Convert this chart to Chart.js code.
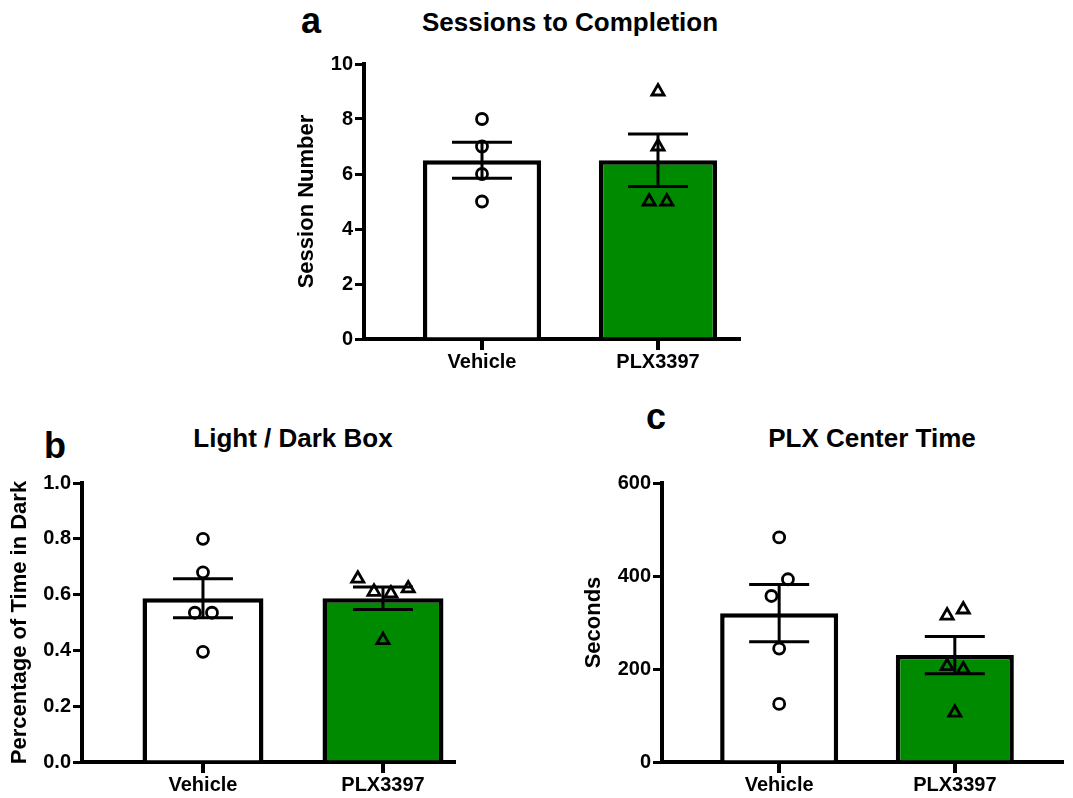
<!DOCTYPE html>
<html>
<head>
<meta charset="utf-8">
<script src="https://cdn.jsdelivr.net/npm/chart.js@4.4.1/dist/chart.umd.min.js"></script>
<style>
  html, body { margin: 0; padding: 0; background: #fff; }
  body { width: 1073px; height: 798px; position: relative; overflow: hidden;
         font-family: "Liberation Sans", Arial, Helvetica, sans-serif; }
  .lbl { position: absolute; font-weight: bold; line-height: 1; white-space: nowrap;
         color: #000; transform: translateX(-50%); }
  canvas { position: absolute; }
</style>
</head>
<body>
<div class="lbl" style="left:311px; top:3px; font-size:36px;">a</div>
<div class="lbl" style="left:570px; top:9px; font-size:26px;">Sessions to Completion</div>
<div class="lbl" style="left:55px; top:428px; font-size:36px;">b</div>
<div class="lbl" style="left:293px; top:425px; font-size:26px;">Light / Dark Box</div>
<div class="lbl" style="left:656px; top:399px; font-size:36px;">c</div>
<div class="lbl" style="left:872px; top:425px; font-size:26px;">PLX Center Time</div>

<canvas id="chartA" width="463" height="390" style="left:287px; top:0px; width:463px; height:390px;"></canvas>
<canvas id="chartB" width="465" height="398" style="left:0px; top:400px; width:465px; height:398px;"></canvas>
<canvas id="chartC" width="499" height="398" style="left:574px; top:400px; width:499px; height:398px;"></canvas>

<script>
// ---------------- data ----------------
const groups = ['Vehicle', 'PLX3397'];

// Panel a: Sessions to Completion
const sessionsMean = [6.5, 6.5];
const sessionsSem = [0.655, 0.955];
const sessionsVehicle = [8, 7, 6, 5];
const sessionsPlx = [9, 7, 5, 5];
const sessionsVehicleJitter = [0, 0, 0, 0];
const sessionsPlxJitter = [0, 0, -0.05, 0.05];
const sessionsTicks = [0, 2, 4, 6, 8, 10];

// Panel b: Light / Dark Box
const darkMean = [0.587, 0.587];
const darkSem = [0.07, 0.04];
const darkVehicle = [0.80, 0.68, 0.535, 0.535, 0.395];
const darkPlx = [0.657, 0.61, 0.604, 0.622, 0.437];
const darkVehicleJitter = [0, 0, -0.045, 0.05, 0];
const darkPlxJitter = [-0.14, -0.05, 0.044, 0.14, 0];
const darkTicks = [0, 0.2, 0.4, 0.6, 0.8, 1.0];

// Panel c: PLX Center Time
const centerMean = [320, 230];
const centerSem = [61.6, 40];
const centerVehicle = [483, 393, 357, 244, 125];
const centerPlx = [315, 328, 206, 199, 106];
const centerVehicleJitter = [0, 0.05, -0.044, 0, 0];
const centerPlxJitter = [-0.044, 0.048, -0.044, 0.048, 0];
const centerTicks = [0, 200, 400, 600];

// ---------------- styling ----------------
Chart.defaults.font.family = '"Liberation Sans", Arial, Helvetica, sans-serif';
Chart.defaults.color = '#000';
const GREEN = 'rgb(0,138,0)';
const X_TICK_LEN = 11;
const CAP_HALF = 30;

// error bars (mean ± SEM)
const errorBarPlugin = {
  id: 'errorBars',
  afterDatasetsDraw(chart) {
    const ctx = chart.ctx, xs = chart.scales.x, ys = chart.scales.y;
    const means = chart.$means, sems = chart.$sems;
    ctx.save();
    ctx.strokeStyle = '#000';
    ctx.lineWidth = 3;
    for (let i = 0; i < means.length; i++) {
      const x = xs.getPixelForValue(i);
      const yt = ys.getPixelForValue(means[i] + sems[i]);
      const yb = ys.getPixelForValue(means[i] - sems[i]);
      ctx.beginPath();
      ctx.moveTo(x, yt); ctx.lineTo(x, yb);
      ctx.moveTo(x - CAP_HALF, yt); ctx.lineTo(x + CAP_HALF, yt);
      ctx.moveTo(x - CAP_HALF, yb); ctx.lineTo(x + CAP_HALF, yb);
      ctx.stroke();
    }
    ctx.restore();
  }
};

// category tick marks under the x axis and the axis corner
const xTickPlugin = {
  id: 'xTickMarks',
  afterDraw(chart) {
    const ctx = chart.ctx, xs = chart.scales.x;
    const yAxis = chart.scales.y;
    const base = yAxis.getPixelForValue(yAxis.min);
    ctx.save();
    ctx.fillStyle = '#000';
    for (let i = 0; i < groups.length; i++) {
      const x = Math.round(xs.getPixelForValue(i));
      ctx.fillRect(x - 2, base, 4, X_TICK_LEN);
    }
    ctx.fillRect(yAxis.right - 2, base - 2, 4, 4);
    ctx.restore();
  }
};

function makePanel(id, p) {
  const pts = (vals, jit, base) => vals.map((v, k) => ({ x: base + jit[k], y: v }));
  const chart = new Chart(document.getElementById(id), {
    type: 'bar',
    data: {
      datasets: [
        {
          type: 'bar',
          data: p.means.map((m, i) => ({ x: i, y: m })),
          backgroundColor: ['#ffffff', GREEN],
          borderColor: '#000',
          borderWidth: 4.5,
          barPercentage: 0.672,
          categoryPercentage: 1,
          order: 3
        },
        {
          type: 'scatter',
          data: pts(p.vehicle, p.vehicleJitter, 0),
          pointStyle: 'circle',
          pointRadius: 5.5,
          pointBorderWidth: 2.8,
          pointBorderColor: '#000',
          pointBackgroundColor: 'rgba(0,0,0,0)',
          order: 1
        },
        {
          type: 'scatter',
          data: pts(p.plx, p.plxJitter, 1),
          pointStyle: 'triangle',
          pointRadius: 7,
          pointBorderWidth: 2.8,
          pointBorderColor: '#000',
          pointBackgroundColor: 'rgba(0,0,0,0)',
          order: 1
        }
      ]
    },
    options: {
      responsive: false,
      animation: false,
      devicePixelRatio: 1,
      events: [],
      layout: { padding: { top: p.padTop, right: p.padRight, left: 0, bottom: 0 } },
      plugins: {
        legend: { display: false },
        tooltip: { enabled: false }
      },
      scales: {
        x: {
          type: 'linear',
          min: p.xMin, max: p.xMax,
          offset: false,
          afterBuildTicks: s => { s.ticks = groups.map((g, i) => ({ value: i })); },
          ticks: {
            callback: v => groups[v],
            font: { size: 20, weight: 'bold' },
            color: '#000',
            padding: 11,
            maxRotation: 0,
            autoSkip: false
          },
          grid: { display: false, drawTicks: false },
          border: { display: true, color: '#000', width: 4 },
          afterFit: s => { s.height = p.xHeight; }
        },
        y: {
          type: 'linear',
          min: p.ticks[0], max: p.ticks[p.ticks.length - 1],
          afterBuildTicks: s => { s.ticks = p.ticks.map(v => ({ value: v })); },
          ticks: {
            callback: v => p.fmt(v),
            font: { size: 20, weight: 'bold' },
            color: '#000',
            padding: 2
          },
          grid: { offset: false, drawOnChartArea: false, drawTicks: true, tickLength: 9, lineWidth: 3, color: '#000' },
          border: { display: true, color: '#000', width: 4 },
          title: {
            display: true,
            text: p.yTitle,
            font: { size: 22, weight: 'bold' },
            color: '#000',
            padding: { top: 7, bottom: 0 }
          },
          afterFit: s => { s.width = p.yWidth; }
        }
      }
    },
    plugins: [{
      id: 'stats',
      beforeInit(c) { c.$means = p.means; c.$sems = p.sems; }
    }, errorBarPlugin, xTickPlugin]
  });
  return chart;
}

makePanel('chartA', {
  means: sessionsMean, sems: sessionsSem,
  vehicle: sessionsVehicle, plx: sessionsPlx,
  vehicleJitter: sessionsVehicleJitter, plxJitter: sessionsPlxJitter,
  ticks: sessionsTicks, fmt: v => String(v),
  yTitle: 'Session Number',
  xMin: -0.6705, xMax: 1.466,
  padTop: 64, padRight: 10, yWidth: 77, xHeight: 51
});

makePanel('chartB', {
  means: darkMean, sems: darkSem,
  vehicle: darkVehicle, plx: darkPlx,
  vehicleJitter: darkVehicleJitter, plxJitter: darkPlxJitter,
  ticks: darkTicks, fmt: v => v.toFixed(1),
  yTitle: 'Percentage of Time in Dark',
  xMin: -0.672, xMax: 1.4,
  padTop: 83, padRight: 10, yWidth: 82, xHeight: 36
});

makePanel('chartC', {
  means: centerMean, sems: centerSem,
  vehicle: centerVehicle, plx: centerPlx,
  vehicleJitter: centerVehicleJitter, plxJitter: centerPlxJitter,
  ticks: centerTicks, fmt: v => String(v),
  yTitle: 'Seconds',
  xMin: -0.667, xMax: 1.617,
  padTop: 83, padRight: 0, yWidth: 88, xHeight: 36
});
</script>
</body>
</html>
